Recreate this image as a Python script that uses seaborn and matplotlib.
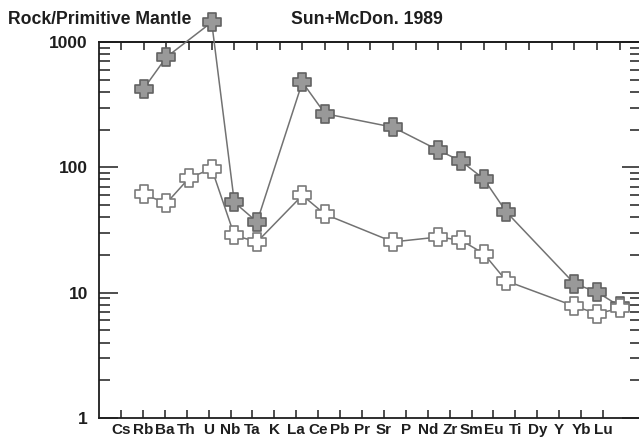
import numpy as np
import pandas as pd
import seaborn as sns
import matplotlib.pyplot as plt
from matplotlib.path import Path
from matplotlib.ticker import LogLocator, NullFormatter

# 数据: 原始地幔标准化蛛网图 (Sun & McDonough 1989)
elements = ['Cs', 'Rb', 'Ba', 'Th', 'U', 'Nb', 'Ta', 'K', 'La', 'Ce', 'Pb', 'Pr',
            'Sr', 'P', 'Nd', 'Zr', 'Sm', 'Eu', 'Ti', 'Dy', 'Y', 'Yb', 'Lu']
nan = np.nan
sample_filled = [nan, 424, 757, nan, 1438, 52.6, 36.7, nan, 478, 268, nan, nan,
                 209, nan, 137, 112, 81, 44, nan, nan, 11.8, 10.1, 7.8]
sample_open = [nan, 61, 51.7, 82, 97.7, 28.7, 25.4, nan, 59.8, 42.2, nan, nan,
               25.4, nan, 27.8, 26.2, 20.5, 12.4, nan, nan, 7.8, 6.8, 7.5]
y_ticks = [1, 10, 100, 1000]

pos = np.arange(len(elements))
df = pd.concat([
    pd.DataFrame({'pos': pos, 'element': elements, 'value': sample_filled, 'sample': 'filled'}),
    pd.DataFrame({'pos': pos, 'element': elements, 'value': sample_open, 'sample': 'open'}),
]).dropna()

sns.set_style('white')
plt.rcParams['font.family'] = ['Liberation Sans', 'DejaVu Sans']
ink = '#1e1e1e'

# 粗十字标记
a, b = 0.2, 0.5
cross = Path([(-a, b), (a, b), (a, a), (b, a), (b, -a), (a, -a), (a, -b), (-a, -b),
              (-a, -a), (-b, -a), (-b, a), (-a, a), (-a, b)], closed=True)

fig = plt.figure(figsize=(6.39, 4.43), dpi=100)
ax = fig.add_axes([99 / 639, 25 / 443, 542 / 639, 376 / 443])

styles = {'filled': ('#999999', '#626262'), 'open': ('white', '#7a7a7a')}
for name, (face, edge) in styles.items():
    sns.lineplot(data=df[df['sample'] == name], x='pos', y='value', ax=ax,
                 color='#727272', linewidth=1.1, marker=cross, markersize=13,
                 markerfacecolor=face, markeredgecolor=edge, markeredgewidth=1.2,
                 clip_on=False, zorder=3)

ax.set_yscale('log')
ax.set_ylim(1, 1000)
ax.set_xlim(-22 / 22.67, 520 / 22.67)

# 坐标轴刻度
ax.set_yticks(y_ticks, labels=[str(v) for v in y_ticks], fontsize=12.5, fontweight='bold', color=ink)
ax.yaxis.set_minor_locator(LogLocator(base=10, subs=range(2, 10)))
ax.yaxis.set_minor_formatter(NullFormatter())
ax.tick_params(axis='y', which='major', direction='in', length=13.7, width=1.1,
               left=True, right=True, pad=8, color=ink)
ax.tick_params(axis='y', which='minor', direction='in', length=7.9, width=1.1,
               left=True, right=True, color=ink)

ax.set_xticks(pos * 21.91 / 22.67, labels=elements, fontsize=11, fontweight='bold', color=ink)
ax.tick_params(axis='x', direction='in', length=5.5, width=1.1, bottom=True, top=False,
               pad=3.5, color=ink)

top = ax.secondary_xaxis('top')
top.set_xticks(pos, labels=[])
top.tick_params(direction='in', length=5.8, width=1.1, color=ink)
top.spines['top'].set_linewidth(1.3)
top.spines['top'].set_color(ink)

for s in ax.spines.values():
    s.set_linewidth(1.3)
    s.set_color(ink)

ax.set_xlabel('')
ax.set_ylabel('')

fig.text(8 / 639, 1 - 20 / 443, 'Rock/Primitive Mantle', ha='left', va='center',
         fontsize=12.7, fontweight='bold', color=ink)
fig.text(291 / 639, 1 - 20 / 443, 'Sun+McDon. 1989', ha='left', va='center',
         fontsize=12.7, fontweight='bold', color=ink)

fig.savefig('out.png', dpi=100)
